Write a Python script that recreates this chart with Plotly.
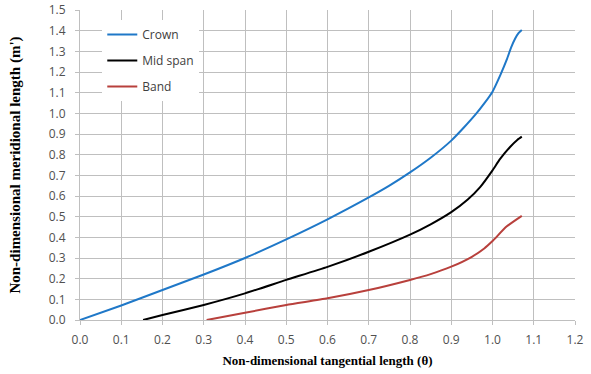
import plotly.graph_objects as go

crown_x = [0, 0.1, 0.2, 0.3, 0.4, 0.5, 0.6, 0.7, 0.75, 0.8, 0.85, 0.9, 0.93, 0.96, 0.98, 1.0, 1.02, 1.035, 1.045, 1.055, 1.063, 1.071]
crown_y = [0, 0.07, 0.145, 0.22, 0.30, 0.39, 0.487, 0.593, 0.65, 0.714, 0.785, 0.868, 0.93, 0.997, 1.048, 1.105, 1.19, 1.262, 1.318, 1.362, 1.388, 1.403]

mid_x = [0.153, 0.2, 0.3, 0.4, 0.5, 0.6, 0.7, 0.8, 0.85, 0.9, 0.94, 0.97, 1.0, 1.018, 1.042, 1.06, 1.071]
mid_y = [0, 0.024, 0.073, 0.129, 0.194, 0.257, 0.33, 0.413, 0.463, 0.522, 0.583, 0.643, 0.724, 0.778, 0.836, 0.871, 0.887]

band_x = [0.307, 0.4, 0.5, 0.6, 0.7, 0.8, 0.85, 0.9, 0.95, 0.98, 1.0, 1.034, 1.071]
band_y = [0, 0.035, 0.073, 0.105, 0.145, 0.194, 0.222, 0.258, 0.306, 0.346, 0.382, 0.452, 0.504]

series = [
    ("Crown", crown_x, crown_y, "#1F78C8"),
    ("Mid span", mid_x, mid_y, "#000000"),
    ("Band", band_x, band_y, "#B8403C"),
]

fig = go.Figure()
for name, xs, ys, col in series:
    fig.add_trace(go.Scatter(
        x=xs, y=ys, mode="lines", name=name, legendgroup=name,
        line=dict(color=col, width=2, shape="spline", smoothing=0.5),
    ))

tick_font = dict(family="Open Sans, Liberation Sans, sans-serif", size=12, color="#505050")
title_font = dict(family="Liberation Serif, Times New Roman, serif", size=13, color="#000000")
ytitle_font = dict(family="Liberation Serif, Times New Roman, serif", size=15, color="#000000")

fig.update_layout(
    width=591, height=374,
    margin=dict(l=80, r=16, t=10, b=54),
    paper_bgcolor="white", plot_bgcolor="white",
    showlegend=True,
    legend=dict(
        x=0.045, y=0.968, xanchor="left", yanchor="top",
        bgcolor="white", borderwidth=0,
        font=dict(family="Open Sans, Liberation Sans, sans-serif", size=12, color="#404040"),
        tracegroupgap=7, itemwidth=30,
    ),
    xaxis=dict(
        range=[0, 1.2], tickvals=[round(i * 0.1, 1) for i in range(13)],
        tickformat=".1f", showgrid=True, gridcolor="#BFBFBF", gridwidth=1,
        zeroline=False, showline=True, linecolor="#BFBFBF", linewidth=1,
        ticks="outside", ticklen=4, tickcolor="#BFBFBF", automargin=False,
        tickfont=tick_font, ticklabelstandoff=5,
        title=dict(text="<b>Non-dimensional tangential length (θ)</b>", font=title_font, standoff=8),
    ),
    yaxis=dict(
        range=[0, 1.5], tickvals=[round(i * 0.1, 1) for i in range(16)],
        tickformat=".1f", showgrid=True, gridcolor="#BFBFBF", gridwidth=1,
        zeroline=False, showline=True, linecolor="#BFBFBF", linewidth=1,
        ticks="outside", ticklen=4, tickcolor="#BFBFBF", automargin=False,
        tickfont=tick_font, ticklabelstandoff=7,
        title=dict(text="<b>Non-dimensional meridional length (m')</b>", font=ytitle_font, standoff=24),
    ),
)

fig.write_html("out.html")
